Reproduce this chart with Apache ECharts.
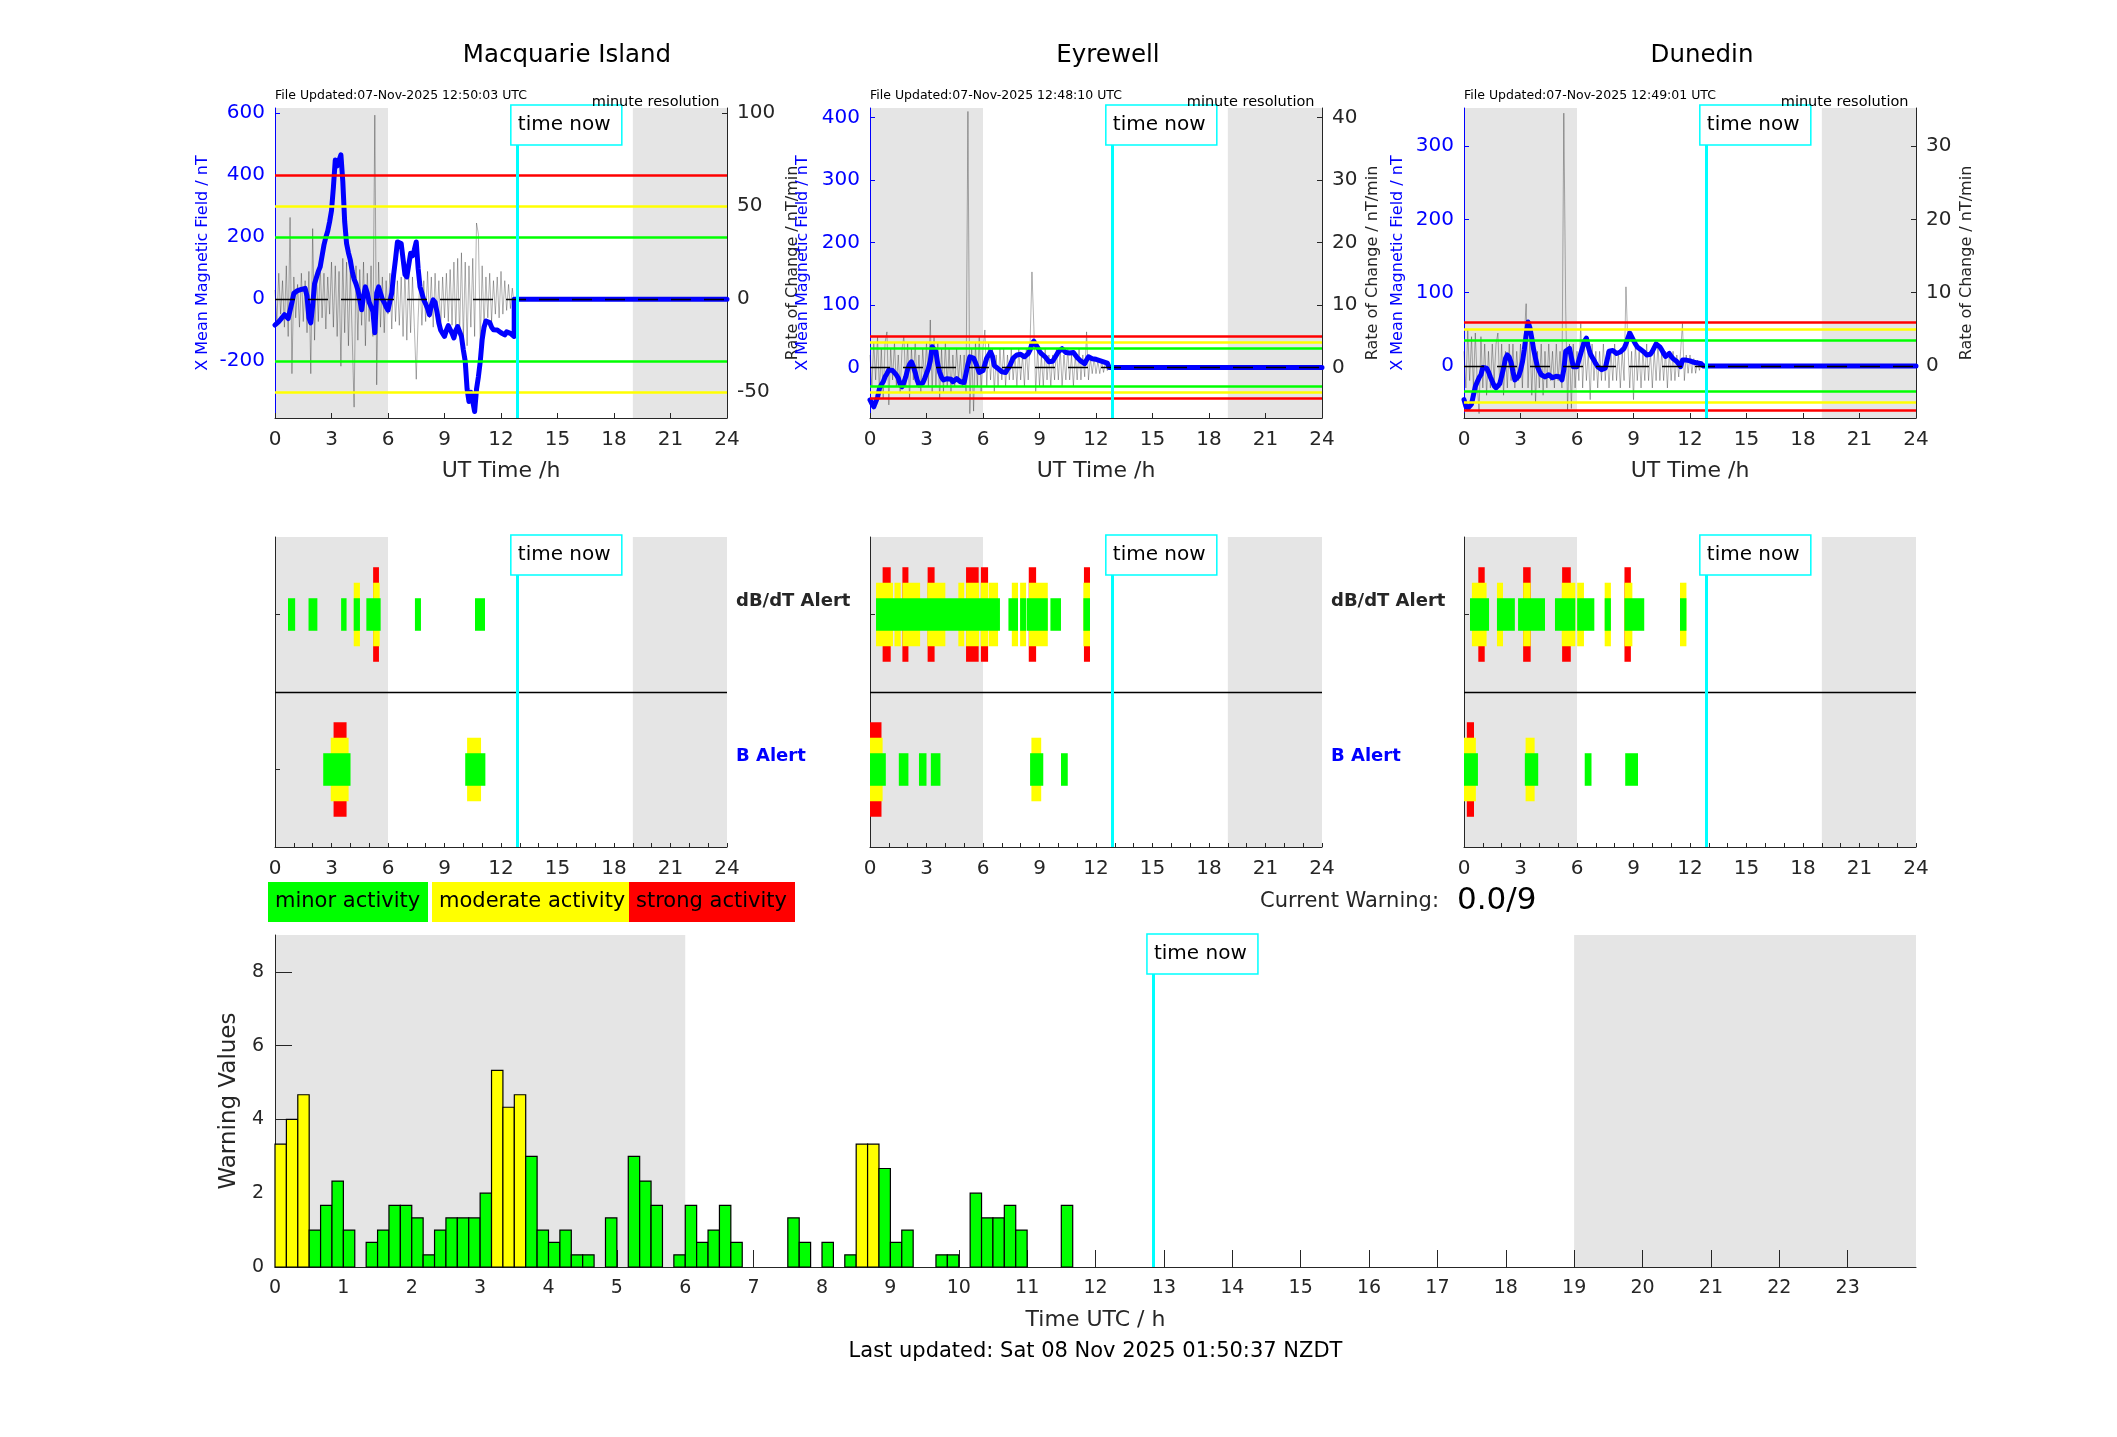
<!DOCTYPE html>
<html>
<head>
<meta charset="utf-8">
<script src="https://cdn.jsdelivr.net/npm/echarts@6/dist/echarts.min.js"></script>
<style>
html,body{margin:0;padding:0;background:#fff;}
#chart{width:2117px;height:1437px;}
</style>
</head>
<body>
<div id="chart"></div>
<script>
// ---------------- DATA ----------------
const stationNames = ['Macquarie Island', 'Eyrewell', 'Dunedin'];
const fileUpdated = ['File Updated:07-Nov-2025 12:50:03 UTC', 'File Updated:07-Nov-2025 12:48:10 UTC', 'File Updated:07-Nov-2025 12:49:01 UTC'];
const resolutionNote = 'minute resolution';
const nowHour = 12.84;
const nightShade = [[0, 6], [19, 24]];
const stepHours = 0.1;          // sample spacing of the traces
const futureField = 0;          // value plotted after "time now"

// X mean magnetic field (nT), every 0.1 h from 0.0 h
const macField = [
 -83,-78,-72,-65,-60,-50,-55,-62,-61,-10,
 19,25,28,30,32,35,35,10,-60,-76,
 -20,50,70,90,105,140,175,200,220,250,
 286,360,449,430,428,466,380,250,180,150,
 126,90,65,50,30,0,-34,10,40,20,
 -10,-24,-40,-108,20,40,20,0,-10,-25,
 -35,-40,20,80,130,185,190,180,130,80,
 72,110,148,140,160,185,100,40,20,-2,
 -15,-30,-50,-20,-2,-10,-40,-77,-100,-110,
 -120,-100,-85,-90,-110,-125,-100,-88,-88,-120,
 -163,-200,-290,-330,-300,-330,-362,-290,-250,-200,
 -130,-90,-70,-66,-75,-90,-98,-100,-99,-105,
 -108,-112,-115,-105,-104,-110,-115,-120];
// rate of change (nT/min), every 0.1 h from 0.0 h
const macRate = [
 5,-12,14,-8,10,-15,18,-20,44,-40,
 12,-10,8,-15,14,-12,10,-18,15,-40,
 38,-22,15,-12,18,-10,14,-16,12,-8,
 20,-15,18,-20,15,-36,22,-18,20,-25,
 15,-20,-58,18,-22,16,-14,20,-25,14,
 -12,18,-20,99,-46,20,-15,12,-18,10,
 -8,14,-16,15,-12,10,-14,12,-20,16,
 -22,14,-18,12,-15,-43,-10,12,-14,10,
 -12,15,-10,12,-15,14,-12,10,-16,12,
 -10,14,-12,16,-14,20,-18,22,-20,25,
 -22,20,-25,18,-15,22,-20,41,35,-25,
 18,-15,12,-10,14,-12,10,-8,12,-10,
 15,-8,10,-6,8,-5,6,-3,0];

const eyrField = [
 -52,-58,-63,-60,-48,-34,-28,-23,-15,-10,
 -4,-2,-5,-8,-12,-17,-27,-31,-24,-15,
 -3,5,9,2,-8,-20,-28,-31,-25,-18,
 -10,-2,10,33,36,25,5,-8,-16,-20,
 -23,-18,-15,-19,-23,-20,-18,-21,-23,-22,
 -24,-23,5,17,20,15,8,0,-8,-10,
 -5,5,15,20,25,18,3,0,-2,-4,
 -7,-10,-8,-3,1,8,15,18,20,22,
 21,19,17,18,22,28,38,42,44,32,
 26,22,20,17,13,9,6,10,15,20,
 25,28,30,27,24,22,23,25,24,20,
 16,13,10,7,6,12,17,15,14,14,
 13,12,11,10,9,8,7,6];
const eyrRate = [
 2,-3,4,-2,5,-4,3,-5,4,5.7,
 -6,3,-2,4,-3,2,-4,3,5,-3,
 4,-5,3,-2,4,-3,2,-4,3,-2,
 4,-3,7.6,-4,5,-3,4,-5,3,-4,
 4,-3,3,-4,2,-3,3,-2,2,-3,
 2,-4,41,-7.4,3,-7,4,-3,5,-4,
 3,6,-3,4,-2,3,-4,2,-3,3,
 -2,3,-3,2,-2,3,-2,2,-3,3,
 -2,2,-3,3,-2,4,15.3,6.5,-4,3,
 -3,2,-3,3,-2,2,-3,2,-2,3,
 -2,3,-3,2,-2,3,-2,2,-3,2,
 -2,3,-2,2,-1.5,5.7,-2,1.5,-1,1.5,
 -1,1,-1,1,-0.8,0.8,-0.5,0.5,0];

const dunField = [
 -46,-55,-58,-60,-52,-40,-28,-22,-16,-12,
 -2,0,-3,-8,-15,-21,-27,-30,-30,-24,
 -14,-3,10,15,12,5,-8,-19,-18,-14,
 -6,5,22,42,60,52,38,22,10,-1,
 -7,-12,-14,-15,-13,-12,-13,-16,-17,-14,
 -12,-15,-19,-5,20,22,24,12,-1,-2,
 -1,8,17,26,34,38,26,17,12,8,
 3,-1,-3,-5,-4,-3,8,20,22,21,
 19,17,18,19,20,24,30,38,45,40,
 35,30,26,24,22,20,18,15,13,16,
 20,25,30,30,26,22,17,13,15,17,
 13,10,8,6,3,-1,8,10,8,7,
 7,6,5,5,4,4,3,1];
const dunRate = [
 2,-3,4.9,-2,4,-3,4.5,-2,-6.5,4,
 -3,3,-4,2,-3,3,-2,3,4.5,-3,
 3,-4,2,-3,3,-2,3,-3,2,-2,
 3,-3,4,8.5,-3,4,-4,3,-5,2,
 -3,3,-4,2,-3,3,-2,2,-3,3,
 -2,2,-3,34.5,7.9,-6,3,-5.8,3,-3,
 2,-2,5.8,-3,3,-2,2,-4.6,3,-2,
 2,-3,2,-2,3,-2,2,-3,2,-2,
 3,-2,2,-3,2,-2,10.8,3,-3,2,
 -4.6,3,-2,2,-3,2,-2,3,-2,2,
 -3,2,-2,3,-2,2,-2,2,-3,2,
 -2,2,-2,1.5,-1.5,2,5.8,-2,1.5,-1,
 1.5,-1,1,-1,0.8,-0.6,0.5,-0.3,0];

// alert threshold levels (minor, moderate, strong), in field units, drawn at +/-
const macLevels = [200, 300, 400];
const eyrLevels = [30, 40, 50];
const dunLevels = [35, 50, 60];

// axis extents and tick labels
const macLeftRange = [-383, 617],  macRightRange = [-63.83, 102.83];
const eyrLeftRange = [-81, 415.5], eyrRightRange = [-8.1, 41.55];
const dunLeftRange = [-71, 352],   dunRightRange = [-7.1, 35.2];
const macLeftTicks = [-200, 0, 200, 400, 600], macRightTicks = [-50, 0, 50, 100];
const eyrLeftTicks = [0, 100, 200, 300, 400],  eyrRightTicks = [0, 10, 20, 30, 40];
const dunLeftTicks = [0, 100, 200, 300],       dunRightTicks = [0, 10, 20, 30];

// alert intervals [start h, end h]
const macDbdtMinor = [[0.69,1.07],[1.78,2.25],[3.51,3.80],[4.18,4.51],[4.85,5.61],[7.43,7.75],[10.62,11.15]];
const macDbdtModerate = [[4.18,4.51],[5.21,5.56]];
const macDbdtStrong = [[5.21,5.52]];
const macBMinor = [[2.56,4.01],[10.10,11.17]];
const macBModerate = [[2.96,3.91],[10.20,10.94]];
const macBStrong = [[3.11,3.80]];

const eyrDbdtMinor = [[0.32,6.90],[7.35,7.86],[7.97,8.29],[8.32,9.44],[9.58,10.14],[11.33,11.68]];
const eyrDbdtModerate = [[0.32,1.22],[1.30,1.63],[1.72,2.66],[3.04,4.00],[4.69,5.00],[5.10,5.79],[5.88,6.28],[6.32,6.80],[7.53,7.86],[7.97,8.29],[8.44,9.44],[11.33,11.68]];
const eyrDbdtStrong = [[0.67,1.10],[1.72,2.04],[3.06,3.43],[5.10,5.77],[5.89,6.27],[8.43,8.82],[11.36,11.68]];
const eyrBMinor = [[0,0.84],[1.53,2.04],[2.60,3.00],[3.23,3.74],[8.50,9.20],[10.14,10.50]];
const eyrBModerate = [[0,0.67],[8.57,9.09]];
const eyrBStrong = [[0,0.61]];

const dunDbdtMinor = [[0.32,1.33],[1.75,2.70],[2.87,4.30],[4.83,5.91],[6.01,6.92],[7.47,7.80],[8.52,9.57],[11.47,11.81]];
const dunDbdtModerate = [[0.42,1.20],[1.75,2.07],[3.14,3.54],[5.19,5.91],[6.01,6.37],[7.47,7.80],[8.52,8.94],[11.47,11.81]];
const dunDbdtStrong = [[0.76,1.10],[3.14,3.54],[5.21,5.67],[8.52,8.86]];
const dunBMinor = [[0,0.74],[3.23,3.94],[6.41,6.77],[8.56,9.24]];
const dunBModerate = [[0,0.63],[3.27,3.75]];
const dunBStrong = [[0.15,0.53]];

const alertRowNames = ['dB/dT Alert', 'B Alert'];
const alertLabelPanels = [0, 1];   // panels followed by the row names
const activityNames = ['minor activity', 'moderate activity', 'strong activity'];

// warning values, 10-minute bins from 0 h
const warnBinHours = 1 / 6;
const warnValues = [
 3.33,4,4.67,1,1.67,2.33,1,0,0.67,1,
 1.67,1.67,1.33,0.33,1,1.33,1.33,1.33,2,5.33,
 4.33,4.67,3,1,0.67,1,0.33,0.33,0,1.33,
 0,3,2.33,1.67,0,0.33,1.67,0.67,1,1.67,
 0.67,0,0,0,0,1.33,0.67,0,0.67,0,
 0.33,3.33,3.33,2.67,0.67,1,0,0,0.33,0.33,
 0,2,1.33,1.33,1.67,1,0,0,0,1.67,
 0,0,0,0,0,0,0];
const moderateWarn = 3;
const warnTicks = [0, 2, 4, 6, 8];
const warnMax = 9;
const currentWarningLabel = 'Current Warning:';
const currentWarningValue = '0.0/9';
const lastUpdated = 'Last updated: Sat 08 Nov 2025 01:50:37 NZDT';

// ---------------- LAYOUT / STYLE ----------------
const FONT = 'DejaVu Sans';
const AX = '#262626';
const BLUE = '#0000ff';
const SHADE = '#e5e5e5';
const GREEN = '#00ff00', YELLOW = '#ffff00', RED = '#ff0000', CYAN = '#00ffff';
const panelLeft = [275, 870, 1464], panelW = 452;
const topY = 108, topH = 310, alertY = 537, alertH = 310;
const botLeft = 275, botY = 935, botW = 1641, botH = 332;
const leftNameGap = [64, 59.5, 58], rightNameGap = [58, 43, 43];

const stations = [
  {field: macField, rate: macRate, levels: macLevels, lr: macLeftRange, rr: macRightRange, lt: macLeftTicks, rt: macRightTicks,
   alerts: [[macDbdtMinor, macDbdtModerate, macDbdtStrong], [macBMinor, macBModerate, macBStrong]]},
  {field: eyrField, rate: eyrRate, levels: eyrLevels, lr: eyrLeftRange, rr: eyrRightRange, lt: eyrLeftTicks, rt: eyrRightTicks,
   alerts: [[eyrDbdtMinor, eyrDbdtModerate, eyrDbdtStrong], [eyrBMinor, eyrBModerate, eyrBStrong]]},
  {field: dunField, rate: dunRate, levels: dunLevels, lr: dunLeftRange, rr: dunRightRange, lt: dunLeftTicks, rt: dunRightTicks,
   alerts: [[dunDbdtMinor, dunDbdtModerate, dunDbdtStrong], [dunBMinor, dunBModerate, dunBStrong]]}
];

function series2D(vals) { return vals.map((v, k) => [Math.round(k * stepHours * 100) / 100, v]); }

const grid = [], xAxis = [], yAxis = [], series = [], title = [];

function shadeSeries(xi, yi) {
  return {
    type: 'custom', xAxisIndex: xi, yAxisIndex: yi, silent: true, z: 0, animation: false,
    data: nightShade, encode: {x: [0, 1]},
    renderItem: function (params, api) {
      const cs = params.coordSys;
      const x0 = api.coord([api.value(0), 0])[0];
      const x1 = api.coord([api.value(1), 0])[0];
      return {type: 'rect', shape: {x: x0, y: cs.y, width: x1 - x0, height: cs.height}, style: {fill: SHADE}};
    }
  };
}

// ---- top panels ----
stations.forEach((s, i) => {
  grid.push({left: panelLeft[i], top: topY, width: panelW, height: topH, containLabel: false, outerBoundsMode: 'none'});
  xAxis.push({
    type: 'value', gridIndex: i, min: 0, max: 24, interval: 3,
    axisLine: {show: true, onZero: false, lineStyle: {color: AX, width: 1}},
    axisTick: {show: true, inside: true, length: 5, lineStyle: {color: AX}},
    axisLabel: {fontSize: 20, color: AX, margin: 12, fontFamily: FONT},
    splitLine: {show: false},
    name: 'UT Time /h', nameLocation: 'middle', nameGap: 42,
    nameTextStyle: {fontSize: 22, color: AX, fontFamily: FONT}
  });
  yAxis.push({
    type: 'value', gridIndex: i, position: 'left', min: s.lr[0], max: s.lr[1],
    axisLine: {show: true, onZero: false, lineStyle: {color: BLUE, width: 1}},
    axisTick: {show: true, inside: true, length: 5, customValues: s.lt, lineStyle: {color: BLUE}},
    axisLabel: {customValues: s.lt, fontSize: 20, color: BLUE, margin: 10, fontFamily: FONT},
    splitLine: {show: false},
    name: 'X Mean Magnetic Field / nT', nameLocation: 'middle', nameRotate: 90, nameGap: leftNameGap[i],
    nameTextStyle: {fontSize: 16, color: BLUE, fontFamily: FONT}
  });
  yAxis.push({
    type: 'value', gridIndex: i, position: 'right', min: s.rr[0], max: s.rr[1],
    axisLine: {show: true, onZero: false, lineStyle: {color: AX, width: 1}},
    axisTick: {show: true, inside: true, length: 5, customValues: s.rt, lineStyle: {color: AX}},
    axisLabel: {customValues: s.rt, fontSize: 20, color: AX, margin: 10, fontFamily: FONT},
    splitLine: {show: false},
    name: 'Rate of Change / nT/min', nameLocation: 'middle', nameRotate: 90, nameGap: rightNameGap[i],
    nameTextStyle: {fontSize: 16, color: AX, fontFamily: FONT}
  });
  const li = 2 * i, ri = 2 * i + 1;
  series.push(shadeSeries(i, li));
  series.push({
    type: 'line', name: stationNames[i] + ' rate', xAxisIndex: i, yAxisIndex: ri, data: series2D(s.rate),
    symbol: 'none', showSymbol: false, silent: true, animation: false, z: 1,
    lineStyle: {color: 'rgba(0,0,0,0.38)', width: 0.8}
  });
  const fd = series2D(s.field);
  const lastT = fd[fd.length - 1][0];
  fd.push([lastT, futureField], [24, futureField]);
  series.push({
    type: 'line', name: stationNames[i] + ' field', xAxisIndex: i, yAxisIndex: li, data: fd,
    symbol: 'none', showSymbol: false, silent: true, animation: false, z: 2,
    lineStyle: {color: BLUE, width: 5, join: 'round', cap: 'round'}
  });
  const lvColors = [GREEN, YELLOW, RED];
  const ml = [];
  s.levels.forEach((lv, k) => {
    [lv, -lv].forEach(v => {
      if (v > s.lr[0] && v < s.lr[1]) ml.push({yAxis: v, lineStyle: {color: lvColors[k], width: 2.5, type: 'solid'}});
    });
  });
  ml.push({yAxis: 0, lineStyle: {color: '#000', width: 1.3, type: [20, 13]}});
  ml.push({xAxis: nowHour, lineStyle: {color: CYAN, width: 3, type: 'solid'}});
  series.push({
    type: 'line', xAxisIndex: i, yAxisIndex: li, data: [], z: 3, silent: true, animation: false,
    markLine: {silent: true, symbol: ['none', 'none'], label: {show: false}, animation: false, data: ml}
  });
});

// ---- alert panels ----
const bandHalf = [0.105, 0.205, 0.305];
const bandColor = [GREEN, YELLOW, RED];
const rowCenter = [1.5, 0.5];
stations.forEach((s, i) => {
  const gi = 3 + i;
  grid.push({left: panelLeft[i], top: alertY, width: panelW, height: alertH, containLabel: false, outerBoundsMode: 'none'});
  xAxis.push({
    type: 'value', gridIndex: gi, min: 0, max: 24, interval: 1,
    axisLine: {show: true, onZero: false, lineStyle: {color: AX, width: 1}},
    axisTick: {show: true, inside: true, length: 4, lineStyle: {color: AX}},
    axisLabel: {fontSize: 20, color: AX, margin: 12, fontFamily: FONT,
      formatter: v => (Math.round(v) % 3 === 0 ? String(Math.round(v)) : '')},
    splitLine: {show: false}
  });
  yAxis.push({
    type: 'value', gridIndex: gi, position: 'left', min: 0, max: 2,
    axisLine: {show: true, onZero: false, lineStyle: {color: AX, width: 1}},
    axisTick: {show: true, inside: true, length: 5, customValues: rowCenter, lineStyle: {color: AX}},
    axisLabel: {show: false}, splitLine: {show: false}
  });
  const yi = yAxis.length - 1;
  series.push(shadeSeries(gi, yi));
  const blocks = [];
  s.alerts.forEach((row, r) => {
    for (let lvl = 2; lvl >= 0; lvl--) {
      row[lvl].forEach(iv => blocks.push([iv[0], iv[1], rowCenter[r], lvl]));
    }
  });
  series.push({
    type: 'custom', xAxisIndex: gi, yAxisIndex: yi, silent: true, animation: false, z: 2,
    data: blocks, encode: {x: [0, 1], y: 2},
    renderItem: function (params, api) {
      const lvl = api.value(3), c = api.value(2), h = bandHalf[lvl];
      const p0 = api.coord([api.value(0), c + h]);
      const p1 = api.coord([api.value(1), c - h]);
      return {type: 'rect', shape: {x: p0[0], y: p0[1], width: p1[0] - p0[0], height: p1[1] - p0[1]}, style: {fill: bandColor[lvl]}};
    }
  });
  series.push({
    type: 'line', xAxisIndex: gi, yAxisIndex: yi, data: [], z: 3, silent: true, animation: false,
    markLine: {silent: true, symbol: ['none', 'none'], label: {show: false}, animation: false,
      data: [{yAxis: 1, lineStyle: {color: '#000', width: 1.3, type: 'solid'}},
             {xAxis: nowHour, lineStyle: {color: CYAN, width: 3, type: 'solid'}}]}
  });
});

// ---- warning bar chart ----
grid.push({left: botLeft, top: botY, width: botW, height: botH, containLabel: false, outerBoundsMode: 'none'});
xAxis.push({
  type: 'value', gridIndex: 6, min: 0, max: 24, interval: 1,
  axisLine: {show: true, onZero: false, lineStyle: {color: AX, width: 1.2}},
  axisTick: {show: true, inside: true, length: 17, lineStyle: {color: AX}},
  axisLabel: {fontSize: 19, color: AX, margin: 12, fontFamily: FONT, showMaxLabel: false},
  splitLine: {show: false},
  name: 'Time UTC / h', nameLocation: 'middle', nameGap: 42,
  nameTextStyle: {fontSize: 22, color: AX, fontFamily: FONT}
});
yAxis.push({
  type: 'value', gridIndex: 6, position: 'left', min: 0, max: warnMax,
  axisLine: {show: true, onZero: false, lineStyle: {color: AX, width: 1}},
  axisTick: {show: true, inside: true, length: 17, customValues: warnTicks, lineStyle: {color: AX}},
  axisLabel: {customValues: warnTicks, fontSize: 19, color: AX, margin: 11, fontFamily: FONT},
  splitLine: {show: false},
  name: 'Warning Values', nameLocation: 'middle', nameRotate: 90, nameGap: 30,
  nameTextStyle: {fontSize: 23, color: AX, fontFamily: FONT}
});
const byi = yAxis.length - 1;
series.push(shadeSeries(6, byi));
series.push({
  type: 'custom', name: 'Warning Values', xAxisIndex: 6, yAxisIndex: byi, silent: true, animation: false, z: 2,
  data: warnValues.map((v, k) => [k * warnBinHours, v]).filter(d => d[1] > 0),
  encode: {x: 0, y: 1},
  renderItem: function (params, api) {
    const t = api.value(0), v = api.value(1);
    const p0 = api.coord([t, v]);
    const p1 = api.coord([t + warnBinHours, 0]);
    return {type: 'rect', shape: {x: p0[0], y: p0[1], width: p1[0] - p0[0], height: p1[1] - p0[1]},
      style: {fill: v > moderateWarn ? YELLOW : GREEN, stroke: '#000', lineWidth: 1.2}};
  }
});
series.push({
  type: 'line', xAxisIndex: 6, yAxisIndex: byi, data: [], z: 3, silent: true, animation: false,
  markLine: {silent: true, symbol: ['none', 'none'], label: {show: false}, animation: false,
    data: [{xAxis: nowHour, lineStyle: {color: CYAN, width: 3, type: 'solid'}}]}
});

// ---- titles ----
const titleCenters = [562, 1103, 1697];
stationNames.forEach((n, i) => title.push({
  text: n, left: titleCenters[i], top: 38, textAlign: 'center',
  textStyle: {fontSize: 24.5, fontWeight: 'normal', color: '#000', fontFamily: FONT}
}));

const chart = echarts.init(document.getElementById('chart'), null, {renderer: 'canvas', width: 2117, height: 1437});
chart.setOption({
  animation: false,
  backgroundColor: '#fff',
  textStyle: {fontFamily: FONT},
  title: title, grid: grid, xAxis: xAxis, yAxis: yAxis, series: series
});

// ---- annotations positioned through the axes ----
const g = [];
function txt(x, y, text, size, opts) {
  g.push(Object.assign({type: 'text', x: x, y: y, z: 110, silent: true,
    style: Object.assign({text: text, fontSize: size, fontFamily: FONT, fill: '#000', align: 'left', verticalAlign: 'middle'}, (opts || {}).style || {})},
    (opts || {}).el || {}));
}
const boxTops = [topY - 3, topY - 3, topY - 3, alertY - 2, alertY - 2, alertY - 2, botY - 1];
boxTops.forEach((bt, k) => {
  const px = chart.convertToPixel({xAxisIndex: k}, nowHour);
  g.push({type: 'rect', z: 100, silent: true, shape: {x: px - 6, y: bt, width: 111, height: 40},
    style: {fill: '#fff', stroke: CYAN, lineWidth: 1.5}});
  txt(px + 1, bt + 20, 'time now', 20);
});
stationNames.forEach((n, i) => {
  txt(panelLeft[i], 95.5, fileUpdated[i], 12.5);
  txt(panelLeft[i] + panelW - 7.5, 102, resolutionNote, 14.5, {style: {align: 'right'}});
});
alertLabelPanels.forEach(i => {
  const yi = 6 + i;
  const yTop = chart.convertToPixel({yAxisIndex: yi}, rowCenter[0]);
  const yBot = chart.convertToPixel({yAxisIndex: yi}, rowCenter[1]);
  txt(panelLeft[i] + panelW + 9, yTop - 13, alertRowNames[0], 18, {style: {fontWeight: 'bold', fill: AX}});
  txt(panelLeft[i] + panelW + 9, yBot - 13, alertRowNames[1], 18, {style: {fontWeight: 'bold', fill: BLUE}});
});
// activity key
const keyBoxes = [[268, 160], [432, 197], [629, 166]];
keyBoxes.forEach((b, k) => {
  g.push({type: 'rect', z: 100, silent: true, shape: {x: b[0], y: 882, width: b[1], height: 40}, style: {fill: bandColor[k]}});
  txt(b[0] + 7, 902, activityNames[k], 21);
});
txt(1260, 902, currentWarningLabel, 21, {style: {fill: AX}});
txt(1457, 901, currentWarningValue, 31);
txt(botLeft + botW / 2, 1352, lastUpdated, 21, {style: {align: 'center'}});

chart.setOption({graphic: {elements: g}});
</script>
</body>
</html>
